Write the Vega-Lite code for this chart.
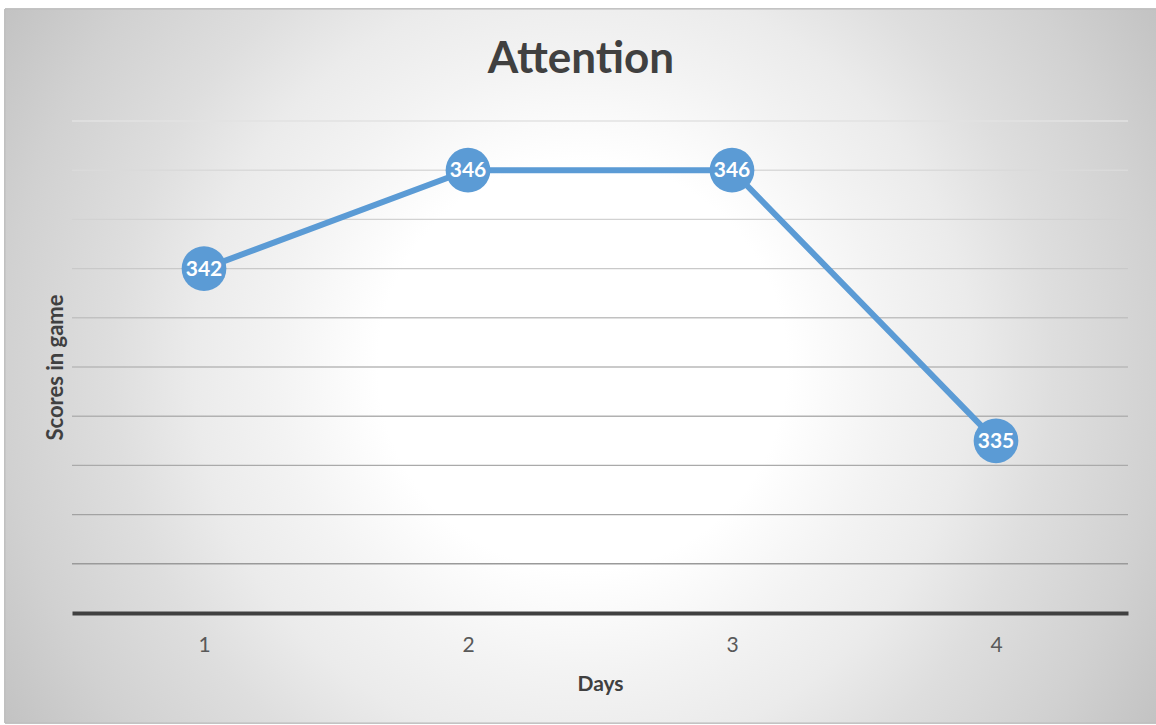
{
  "$schema": "https://vega.github.io/schema/vega-lite/v6.json",
  "autosize": "none",
  "width": 1056,
  "height": 492,
  "padding": {"left": 72, "top": 121, "right": 28, "bottom": 112},
  "background": "#ffffff",
  "title": {
    "text": "Attention",
    "font": "Lato",
    "fontSize": 44,
    "fontWeight": "bold",
    "color": "#404040",
    "anchor": "middle",
    "frame": "group",
    "baseline": "alphabetic",
    "offset": -108,
    "dx": -19,
    "zindex": 1
  },
  "config": {
    "view": {"stroke": null},
    "axis": {"labelFont": "Lato", "titleFont": "Lato"}
  },
  "data": {
    "values": [
      {"day": 1, "score": 342},
      {"day": 2, "score": 346},
      {"day": 3, "score": 346},
      {"day": 4, "score": 335}
    ]
  },
  "layer": [
    {
      "mark": {
        "type": "rect",
        "stroke": "#bdbdbd",
        "strokeWidth": 1,
        "fill": {
          "gradient": "radial",
          "x1": 0.5, "y1": 0.5, "r1": 0,
          "x2": 0.5, "y2": 0.5, "r2": 0.59,
          "stops": [
            {"offset": 0, "color": "#ffffff"},
            {"offset": 0.3, "color": "#ffffff"},
            {"offset": 0.45, "color": "#f3f3f3"},
            {"offset": 0.57, "color": "#ebebeb"},
            {"offset": 0.69, "color": "#dedede"},
            {"offset": 0.85, "color": "#d1d1d1"},
            {"offset": 1, "color": "#c2c2c2"}
          ]
        }
      },
      "encoding": {
        "x": {"datum": 0.2462, "type": "quantitative", "scale": {"domain": [0.5, 4.5], "nice": false, "zero": false}, "title": "Days"},
        "x2": {"datum": 4.62},
        "y": {"datum": 352.55, "type": "quantitative", "scale": {"domain": [328, 348], "nice": false, "zero": false}, "title": "Scores in game"},
        "y2": {"datum": 323.53}
      }
    },
    {
      "data": {
        "values": [
          {"grid": 330}, {"grid": 332}, {"grid": 334}, {"grid": 336}, {"grid": 338},
          {"grid": 340}, {"grid": 342}, {"grid": 344}, {"grid": 346}, {"grid": 348}
        ]
      },
      "mark": {"type": "rule", "strokeWidth": 1.4},
      "encoding": {
        "x": {"datum": 0.5, "type": "quantitative"},
        "x2": {"datum": 4.5},
        "y": {"field": "grid", "type": "quantitative", "title": "Scores in game"},
        "color": {
          "field": "grid", "type": "quantitative",
          "scale": {"domain": [330, 348], "range": ["#9a9a9a", "#e2e2e2"]},
          "legend": null
        }
      }
    },
    {
      "mark": {"type": "line", "color": "#5b9bd5", "strokeWidth": 6},
      "encoding": {
        "x": {
          "field": "day", "type": "quantitative",
          "scale": {"domain": [0.5, 4.5], "nice": false, "zero": false},
          "title": "Days",
          "axis": {
            "values": [1, 2, 3, 4],
            "format": "d",
            "grid": false,
            "ticks": false,
            "zindex": 1,
            "domainColor": "#404040",
            "domainWidth": 4,
            "labelFontSize": 21,
            "labelColor": "#595959",
            "labelPadding": 21,
            "titleFontSize": 21,
            "titleFontWeight": "bold",
            "titleColor": "#404040",
            "titlePadding": 18
          }
        },
        "y": {
          "field": "score", "type": "quantitative",
          "scale": {"domain": [328, 348], "nice": false, "zero": false},
          "title": "Scores in game",
          "axis": {
            "values": [330, 332, 334, 336, 338, 340, 342, 344, 346, 348],
            "labels": false,
            "ticks": false,
            "domain": false,
            "grid": false,
            "zindex": 1,
            "titleFontSize": 22,
            "titleFontWeight": "bold",
            "titleColor": "#404040",
            "titlePadding": 5
          }
        }
      }
    },
    {
      "mark": {"type": "point", "shape": "circle", "filled": true, "color": "#5b9bd5", "opacity": 1, "size": 2000},
      "encoding": {
        "x": {"field": "day", "type": "quantitative"},
        "y": {"field": "score", "type": "quantitative"}
      }
    },
    {
      "mark": {"type": "text", "font": "Lato", "fontSize": 21, "fontWeight": "bold", "color": "#ffffff", "baseline": "middle", "align": "center", "dy": 1},
      "encoding": {
        "x": {"field": "day", "type": "quantitative"},
        "y": {"field": "score", "type": "quantitative"},
        "text": {"field": "score", "type": "quantitative"}
      }
    }
  ]
}
